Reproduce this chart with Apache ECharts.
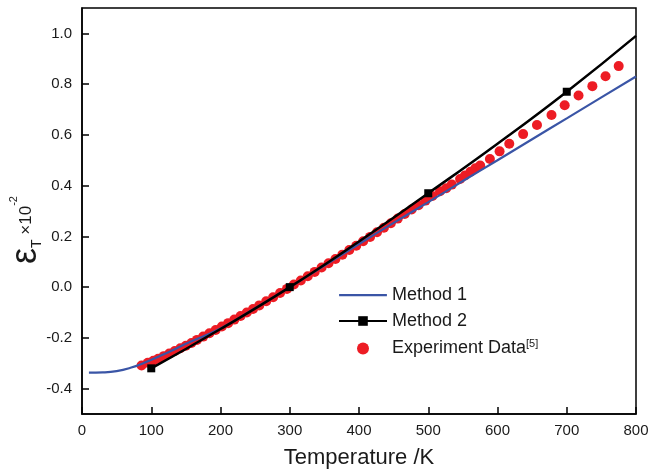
<!DOCTYPE html>
<html>
<head>
<meta charset="utf-8">
<script src="https://cdn.jsdelivr.net/npm/echarts@6/dist/echarts.min.js"></script>
<style>
  html, body { margin: 0; padding: 0; background: #fff; }
  #chart { width: 652px; height: 474px; }
</style>
</head>
<body>
<div id="chart"></div>
<script>
// data
var xTicks = [0, 100, 200, 300, 400, 500, 600, 700, 800];
var yTicks = [-0.4, -0.2, 0.0, 0.2, 0.4, 0.6, 0.8, 1.0];

var method1T = [10, 30, 50, 70, 90, 110, 130, 150, 200, 250, 300, 350, 400, 450, 500, 550, 600, 650, 700, 750, 800];
var method1V = [-0.337, -0.336, -0.331, -0.318, -0.298, -0.274, -0.25, -0.223, -0.163, -0.083, 0.0, 0.085, 0.17, 0.253, 0.335, 0.418, 0.5, 0.583, 0.665, 0.748, 0.83];

var method2T = [100, 200, 300, 400, 500, 600, 700, 800];
var method2V = [-0.32, -0.165, 0.0, 0.18, 0.37, 0.565, 0.77, 0.99];
var method2Marked = [100, 300, 500, 700];

var expT = [86, 95, 103, 110, 118, 126, 134, 142, 150, 158, 166, 175, 184, 193, 202, 211, 220, 229, 238, 247,
  256, 266, 276, 286, 296, 306, 316, 326, 336, 346, 356, 366, 376, 386, 396, 406, 416, 426, 436, 446,
  456, 466, 476, 486, 496, 506, 517, 526, 534, 546, 553, 561, 568, 575, 589, 603, 617, 637, 657, 678,
  697, 717, 737, 756, 775];
var expV = [-0.309, -0.298, -0.29, -0.282, -0.272, -0.262, -0.252, -0.241, -0.231, -0.22, -0.208, -0.195, -0.182, -0.169, -0.155, -0.142, -0.128, -0.114, -0.1, -0.086,
  -0.072, -0.056, -0.04, -0.023, -0.007, 0.01, 0.026, 0.043, 0.06, 0.077, 0.094, 0.111, 0.128, 0.146, 0.163, 0.181, 0.198, 0.216, 0.234, 0.252,
  0.27, 0.288, 0.306, 0.323, 0.341, 0.359, 0.378, 0.39, 0.404, 0.426, 0.44, 0.455, 0.468, 0.479, 0.505, 0.535, 0.565, 0.603, 0.639, 0.678,
  0.717, 0.755, 0.792, 0.831, 0.871];

var chart = echarts.init(document.getElementById("chart"));
var font = "'Liberation Sans', Arial, sans-serif";

function pairs(xs, ys) {
  return xs.map(function (x, i) { return [x, ys[i]]; });
}

var method2Data = method2T.map(function (t, i) {
  var item = { value: [t, method2V[i]] };
  if (method2Marked.indexOf(t) < 0) item.symbol = "none";
  return item;
});

// plain line icon for the legend (thin slivers keep the box 48x12)
var lineIcon = "path://M0,0 L48,0 L48,0.05 L0,0.05 Z M0,5 L48,5 L48,7.2 L0,7.2 Z M0,12 L48,12 L48,12.05 L0,12.05 Z";

var option = {
  animation: false,
  textStyle: { fontFamily: font },
  grid: {
    left: 82,
    right: 16,
    top: 8,
    bottom: 58,
    show: true,
    borderColor: "#000",
    borderWidth: 1.5
  },
  legend: {
    orient: "vertical",
    left: 333,
    top: 281,
    itemWidth: 48,
    itemHeight: 12,
    itemGap: 8,
    textStyle: {
      fontFamily: font,
      fontSize: 18,
      color: "#1a1a1a",
      rich: {
        sup: { fontSize: 11, verticalAlign: "top", padding: [0, 0, 10, 0] }
      }
    },
    formatter: function (name) {
      if (name === "Experiment Data") return "Experiment Data{sup|[5]}";
      return name;
    },
    data: [
      { name: "Method 1", icon: lineIcon, itemStyle: { color: "#3a55a6" } },
      "Method 2",
      "Experiment Data"
    ]
  },
  xAxis: {
    type: "value",
    min: 0,
    max: 800,
    interval: 100,
    name: "Temperature /K",
    nameLocation: "middle",
    nameGap: 33,
    nameTextStyle: { fontSize: 22, color: "#1a1a1a", fontFamily: font },
    axisLine: { show: true, onZero: false, lineStyle: { color: "#000", width: 1.5 } },
    axisTick: { show: true, inside: true, length: 7, lineStyle: { color: "#000", width: 1.5 } },
    axisLabel: { fontSize: 15, color: "#1a1a1a", margin: 9 },
    splitLine: { show: false }
  },
  yAxis: {
    type: "value",
    min: -0.5,
    max: 1.1,
    axisLine: { show: true, onZero: false, lineStyle: { color: "#000", width: 1.5 } },
    axisTick: { show: true, inside: true, length: 7, customValues: yTicks, lineStyle: { color: "#000", width: 1.5 } },
    axisLabel: {
      fontSize: 15,
      color: "#1a1a1a",
      margin: 10,
      customValues: yTicks,
      formatter: function (v) { return v.toFixed(1); }
    },
    splitLine: { show: false }
  },
  graphic: [
    {
      type: "text",
      x: 26,
      y: 230,
      rotation: Math.PI / 2,
      style: {
        text: "{e|ε}{s|T}{x| ×10}{p|-2}",
        align: "center",
        verticalAlign: "middle",
        fill: "#1a1a1a",
        rich: {
          e: { fontSize: 36, fontFamily: font, fill: "#1a1a1a" },
          s: { fontSize: 14, fontFamily: font, fill: "#1a1a1a", verticalAlign: "bottom", padding: [12, 0, 0, 0] },
          x: { fontSize: 17, fontFamily: font, fill: "#1a1a1a" },
          p: { fontSize: 11, fontFamily: font, fill: "#1a1a1a", verticalAlign: "top", padding: [0, 0, 14, 0] }
        }
      }
    }
  ],
  series: [
    {
      name: "Method 1",
      type: "line",
      smooth: true,
      symbol: "none",
      color: "#3a55a6",
      lineStyle: { color: "#3a55a6", width: 2.2 },
      data: pairs(method1T, method1V),
      z: 3
    },
    {
      name: "Method 2",
      type: "line",
      smooth: true,
      symbol: "rect",
      symbolSize: 8,
      color: "#000",
      itemStyle: { color: "#000" },
      lineStyle: { color: "#000", width: 2.5 },
      data: method2Data,
      z: 4
    },
    {
      name: "Experiment Data",
      type: "scatter",
      symbol: "circle",
      symbolSize: 10,
      color: "#ed1c24",
      itemStyle: { color: "#ed1c24", opacity: 1 },
      data: pairs(expT, expV),
      z: 2
    }
  ]
};

chart.setOption(option);
</script>
</body>
</html>
